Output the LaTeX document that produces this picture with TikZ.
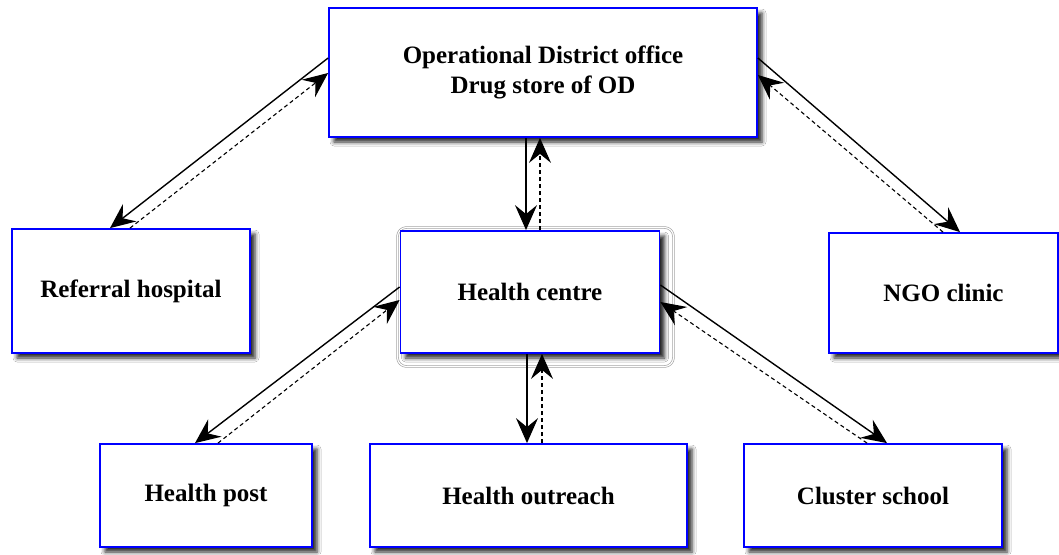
\documentclass[tikz,border=0pt]{standalone}
\usepackage{fontspec}
\setmainfont{Liberation Serif}
\usetikzlibrary{arrows.meta,shadows.blur}
\begin{document}
\begin{tikzpicture}[x=1pt,y=-1pt,
  box/.style={draw=blue, line width=1.8pt, fill=white, inner sep=0pt,
    font=\fontsize{25}{30}\selectfont\bfseries, align=center,
    blur shadow={shadow xshift=5pt, shadow yshift=-5pt, shadow blur radius=4pt, shadow opacity=85}},
  tip/.style={-{Stealth[length=25pt,width=22pt,inset=9pt]}},
  flow/.style={tip, line width=1.4pt, black},
  back/.style={tip, line width=1.1pt, black, dash pattern=on 4pt off 3pt}]
\useasboundingbox[fill=white] (0,0) rectangle (1059,554);
% health centre frame
\node (hcframe) [draw=gray!80, double=white, double distance=1.2pt, line width=0.6pt,
  rounded corners=9pt, minimum width=276pt, minimum height=139pt, inner sep=0pt] at (535.5,297) {};
% boxes
\node (od) [box, minimum width=428pt, minimum height=129pt] at (543,72.5)
  {Operational District office\\Drug store of OD};
\node (rh) [box, minimum width=238pt, minimum height=124pt] at (131,291) {Referral hospital};
\node (hc) [box, minimum width=259pt, minimum height=122pt] at (530,292) {Health centre};
\node (ngo) [box, minimum width=229pt, minimum height=120pt] at (943.5,293) {NGO clinic};
\node (hp) [box, minimum width=212pt, minimum height=103pt] at (206,495.5) {Health post};
\node (ho) [box, minimum width=317pt, minimum height=103pt] at (528.5,495.5) {Health outreach};
\node (cs) [box, minimum width=258pt, minimum height=103pt] at (873,495.5) {Cluster school};
% OD -- referral hospital
\draw[flow] ([yshift=14.5pt]od.west) -- ([xshift=-21pt]rh.north);
\draw[back] ([xshift=-1pt]rh.north) -- ([yshift=-0.5pt]od.west);
% OD -- NGO clinic
\draw[flow] ([yshift=14.5pt]od.east) -- ([xshift=16.5pt]ngo.north);
\draw[back] ([xshift=-0.5pt]ngo.north) -- ([yshift=-2.5pt]od.east);
% OD -- health centre
\draw[flow] ([xshift=-17pt]od.south) -- ([xshift=-4pt]hc.north);
\draw[back] ([xshift=10pt]hc.north) -- ([xshift=-3pt]od.south);
% health centre -- health post
\draw[flow] ([yshift=5pt]hc.west) -- ([xshift=-11pt]hp.north);
\draw[back] ([xshift=12pt]hp.north) -- ([yshift=-8pt]hc.west);
% health centre -- cluster school
\draw[flow] ([yshift=7pt]hc.east) -- ([xshift=14pt]cs.north);
\draw[back] ([xshift=-6pt]cs.north) -- ([yshift=-10pt]hc.east);
% health centre -- health outreach
\draw[flow] ([xshift=-3pt]hc.south) -- ([xshift=-1.5pt]ho.north);
\draw[back] ([xshift=13.5pt]ho.north) -- ([xshift=12pt]hc.south);
\end{tikzpicture}
\end{document}
